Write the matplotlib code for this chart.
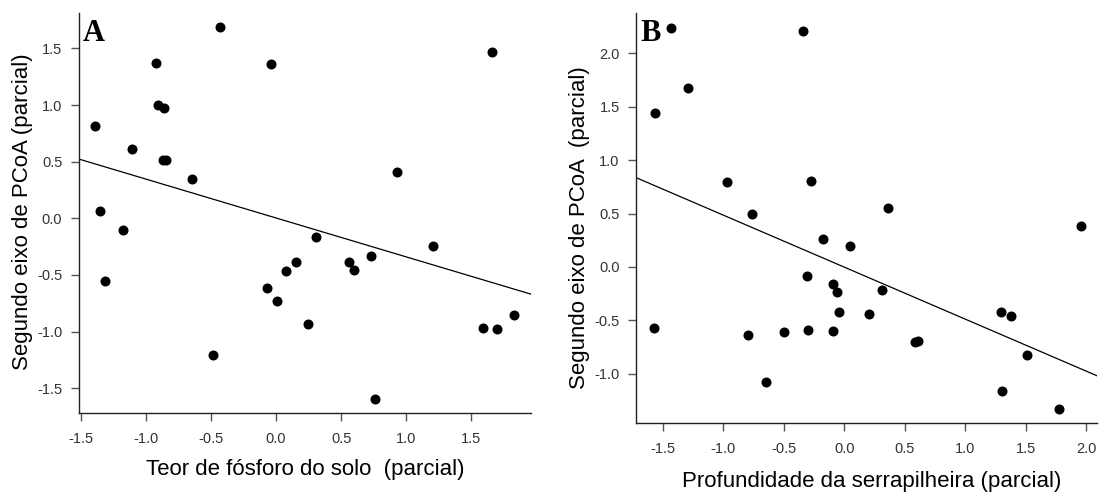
import matplotlib
matplotlib.use("Agg")
import matplotlib.pyplot as plt
import numpy as np

# ---- Data: panel A (soil phosphorus, partial) ----
a_x = [-1.392, -0.923, -0.431, -0.041, 1.662, -0.908, -0.862, -1.105, -0.867, -0.846,
       -0.649, -1.354, -1.177, -1.318, -0.069, 0.008, -0.485, 0.310, 1.208, 0.933,
       0.733, 0.154, 0.079, 0.564, 0.600, 0.249, 0.764, 1.592, 1.700, 1.828]
a_y = [0.815, 1.373, 1.686, 1.362, 1.470, 0.997, 0.971, 0.612, 0.517, 0.517,
       0.347, 0.064, -0.103, -0.553, -0.612, -0.727, -1.207, -0.168, -0.242, 0.411,
       -0.330, -0.383, -0.468, -0.388, -0.459, -0.930, -1.592, -0.968, -0.974, -0.853]
a_fit = (0.003, -0.343)  # intercept, slope

# ---- Data: panel B (litter depth, partial) ----
b_x = [-1.433, -0.342, -1.293, -1.568, -0.973, -0.273, -0.766, -0.177, 0.046, 0.358,
       1.953, -0.312, -0.097, -0.064, -0.042, 0.203, 0.308, -1.571, -0.794, -0.499,
       -0.298, -0.097, 0.583, 0.611, -0.650, 1.294, 1.374, 1.507, 1.302, 1.776]
b_y = [2.235, 2.210, 1.679, 1.442, 0.799, 0.808, 0.493, 0.259, 0.199, 0.549,
       0.384, -0.084, -0.162, -0.231, -0.418, -0.440, -0.215, -0.574, -0.637, -0.609,
       -0.590, -0.599, -0.702, -0.693, -1.074, -0.424, -0.459, -0.824, -1.158, -1.326]
b_fit = (-0.002, -0.487)

a_xticks = [-1.5, -1.0, -0.5, 0.0, 0.5, 1.0, 1.5]
a_yticks = [-1.5, -1.0, -0.5, 0.0, 0.5, 1.0, 1.5]
b_xticks = [-1.5, -1.0, -0.5, 0.0, 0.5, 1.0, 1.5, 2.0]
b_yticks = [-1.0, -0.5, 0.0, 0.5, 1.0, 1.5, 2.0]

plt.rcParams['font.family'] = ['Liberation Sans', 'DejaVu Sans']

W, H = 1102, 493
fig = plt.figure(figsize=(W / 100, H / 100), dpi=100)

def px_axes(l, t, r, b):
    return fig.add_axes([l / W, (H - b) / H, (r - l) / W, (b - t) / H])

axA = px_axes(79, 13, 531, 413)
axB = px_axes(636.3, 13, 1096.7, 422.7)

def style(ax, xlim, ylim, xticks, yticks):
    ax.set_xlim(*xlim)
    ax.set_ylim(*ylim)
    ax.set_xticks(xticks)
    ax.set_yticks(yticks)
    ax.set_xticklabels([f"{v:.1f}" for v in xticks])
    ax.set_yticklabels([f"{v:.1f}" for v in yticks])
    for s in ['top', 'right']:
        ax.spines[s].set_visible(False)
    for s in ['left', 'bottom']:
        ax.spines[s].set_linewidth(1.0)
        ax.spines[s].set_color('#222222')
    ax.tick_params(direction='out', length=6, width=1.0, color='#555555',
                   labelsize=10.5, labelcolor='#333333')
    ax.tick_params(axis='x', pad=8)
    ax.tick_params(axis='y', pad=6)

def panel(ax, xs, ys, fit, xlim, ylim, xt, yt, letter, xlabel, ylabel, xlc, ylc):
    style(ax, xlim, ylim, xt, yt)
    ax.scatter(xs, ys, s=52, color='black', zorder=3, linewidths=0)
    xx = np.array(xlim)
    ax.plot(xx, fit[0] + fit[1] * xx, color='black', lw=0.9, zorder=2)
    ax.text(0.008, 0.985, letter, transform=ax.transAxes, ha='left', va='top',
            fontsize=22, fontweight='bold', family=['Liberation Serif', 'DejaVu Serif'])
    ax.set_xlabel(xlabel, fontsize=16, color='black', va='center')
    ax.set_ylabel(ylabel, fontsize=16, color='black', va='center')
    ax.xaxis.set_label_coords(*xlc)
    ax.yaxis.set_label_coords(*ylc)

panel(axA, a_x, a_y, a_fit, (-1.515, 1.96), (-1.718, 1.812), a_xticks, a_yticks, 'A',
      'Teor de fósforo do solo  (parcial)', 'Segundo eixo de PCoA (parcial)',
      ((305 - 79) / 452, (413 - 470) / 400), ((23 - 79) / 452, (413 - 212) / 400))
panel(axB, b_x, b_y, b_fit, (-1.72, 2.085), (-1.458, 2.378), b_xticks, b_yticks, 'B',
      'Profundidade da serrapilheira (parcial)', 'Segundo eixo de PCoA  (parcial)',
      ((872 - 636.3) / 460.4, (422.7 - 481) / 409.7), ((579 - 636.3) / 460.4, (422.7 - 228) / 409.7))

fig.savefig('out.png', dpi=100)
